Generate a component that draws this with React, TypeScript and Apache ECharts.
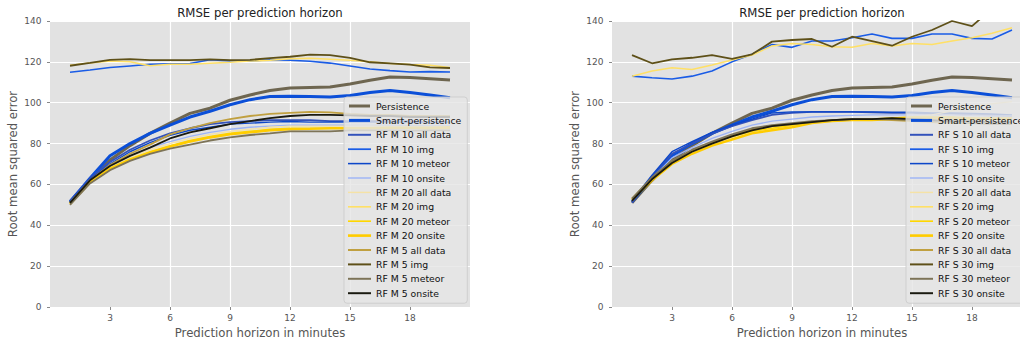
import React, { useEffect, useRef } from "react";
import * as echarts from "echarts";

const minutes = [1, 2, 3, 4, 5, 6, 7, 8, 9, 10, 11, 12, 13, 14, 15, 16, 17, 18, 19, 20];
const xTicks = [3, 6, 9, 12, 15, 18];

const persistence = [51, 62, 72, 79, 85, 90, 94.8, 97.3, 101.2, 103.8, 106, 107.2, 107.5, 107.7, 109.2, 111, 112.6, 112.3, 111.7, 111.1];
const smartPersistence = [51.5, 63, 74, 80, 85, 89, 93, 95.8, 99, 101.5, 103, 103.2, 103, 102.8, 103.5, 105, 106, 105, 103.8, 102.4];

// Left chart (RF M)
const m10All = [52, 63, 71, 77, 81.5, 85, 87.5, 89.5, 90.5, 91, 91.5, 91.5, 91.5, 91, 91, 91, 91, 91, 90.5, 90.5];
const m10Img = [114.9, 116, 117.2, 118, 118.8, 119, 119.2, 121, 120.5, 120.5, 121, 120.8, 120.3, 119.4, 118, 116.5, 115.7, 115, 115.2, 115];
const m10Meteor = [51.5, 62.5, 70, 76, 80.5, 84, 86.5, 88, 89.5, 90, 90.5, 90.8, 90.5, 90.5, 90.5, 90.5, 90.5, 90.3, 90.3, 90.5];
const m10Onsite = [51, 62, 69, 74, 78, 81, 83.5, 85.5, 87, 88, 88.5, 89, 89, 89, 89, 89, 89, 88.8, 88.8, 88.8];
const m20All = [51, 61.5, 68.5, 73, 77, 80, 82.5, 84.5, 86, 87, 88, 88.5, 88.5, 88.5, 88.5, 88.5, 88.3, 88.3, 88, 88];
const m20Img = [118.4, 119.5, 120.4, 120, 118.1, 118.8, 118.8, 119.3, 119.8, 120.4, 120.8, 121.5, 121.8, 121.3, 120.8, 120, 119.2, 118.7, 118.3, 117.3];
const m20Meteor = [50.5, 61, 68, 72.5, 76, 79, 81.5, 83.5, 85, 86, 87, 87.5, 87.5, 87.5, 87.5, 87.5, 87.5, 87.5, 87.3, 87.5];
const m20Onsite = [50.5, 61, 67.5, 72, 75.5, 78.5, 81, 83, 84.5, 85.5, 86.5, 87, 87.2, 87.5, 87.5, 87.5, 87.8, 87.8, 87.8, 88];
const m5All = [51, 62, 69.5, 75, 79.5, 84.5, 87.5, 90, 92, 93.5, 94.5, 95, 95.5, 95.3, 94.5, 94, 94, 93.5, 93.5, 93.5];
const m5Img = [118.1, 119.5, 121, 121.3, 120.8, 120.8, 120.8, 121.2, 120.8, 121, 121.8, 122.5, 123.5, 123.3, 122, 119.8, 119.3, 118.6, 117.3, 117];
const m5Meteor = [50, 60.5, 67, 71.5, 75, 77.5, 79.5, 81.5, 83, 84.2, 85, 86, 86, 86, 86.5, 86.5, 86.5, 86.3, 86.5, 86.5];
const m5Onsite = [51, 62, 69, 74, 78, 82.5, 85.5, 87.5, 89.5, 91, 92.5, 93.5, 94, 94, 93.8, 93.5, 93.5, 93, 93, 93];

// Right chart (RF S)
const s10All = [51, 64, 75, 80, 85, 88.5, 91.5, 94, 95, 95.5, 95.5, 95.5, 95.3, 95, 95, 94.5, 94.5, 94, 93.8, 93.5];
const s10Img = [113, 112.2, 111.6, 113, 115.5, 120, 123.7, 128.5, 127.1, 130.2, 130.2, 131.8, 133.6, 131.5, 131.5, 133.6, 133.6, 131.5, 131.2, 135.6];
const s10Meteor = [52, 64.5, 76, 81, 85.5, 89, 92, 95, 95.5, 95.5, 95.5, 95.5, 95.5, 95.3, 95.3, 95, 95, 94.8, 94.5, 94];
const s10Onsite = [52, 63, 73, 78, 82.5, 86, 89, 91, 92, 93, 93.5, 93.8, 94, 94, 94, 94, 94, 93.8, 93.5, 93.5];
const s20All = [52, 62.5, 71, 76, 80, 83, 86, 88, 89, 90.5, 91, 91.5, 92, 92.5, 93, 94, 96, 98, 99.5, 100.5];
const s20Img = [113, 115.5, 117.1, 116.3, 118.5, 120.9, 123.3, 127.8, 129, 128.5, 127.4, 127.1, 129, 127.8, 129, 128.5, 130.2, 131.8, 134, 136.7];
const s20Meteor = [53, 63, 71.5, 76.5, 80.5, 83.5, 86, 87.5, 89, 90.5, 91, 91.5, 92, 92.5, 93, 93, 93, 92.5, 92.5, 92.5];
const s20Onsite = [52.5, 62, 70, 75, 79, 82, 85, 86.5, 88, 90, 91, 91.5, 91.5, 92, 92.5, 92.5, 92.5, 92, 92, 92];
const s30All = [53, 63, 71, 76.5, 80.5, 84, 87, 88.5, 89.5, 90.5, 91.5, 92, 92, 91.5, 91, 90.5, 90, 90, 90, 90];
const s30Img = [123.3, 119.3, 121.2, 122, 123.3, 121.5, 123.7, 129.9, 130.7, 131.2, 127.4, 132.3, 130.2, 127.9, 132.3, 135.6, 140, 137.5, 146, 150];
const s30Meteor = [53, 63.5, 71.5, 77, 81, 84.5, 87.5, 89, 90, 91, 91.5, 92, 92, 92, 91.5, 91, 90.5, 90, 89.5, 89.5];
const s30Onsite = [52, 62.5, 70.5, 76, 80, 83.5, 86.5, 88.5, 89.5, 90.5, 91.5, 92, 92, 92.5, 92, 91.5, 91, 91, 90.5, 90.5];

const leftNames = [
  "Persistence", "Smart-persistence",
  "RF M 10 all data", "RF M 10 img", "RF M 10 meteor", "RF M 10 onsite",
  "RF M 20 all data", "RF M 20 img", "RF M 20 meteor", "RF M 20 onsite",
  "RF M 5 all data", "RF M 5 img", "RF M 5 meteor", "RF M 5 onsite",
];
const rightNames = [
  "Persistence", "Smart-persistence",
  "RF S 10 all data", "RF S 10 img", "RF S 10 meteor", "RF S 10 onsite",
  "RF S 20 all data", "RF S 20 img", "RF S 20 meteor", "RF S 20 onsite",
  "RF S 30 all data", "RF S 30 img", "RF S 30 meteor", "RF S 30 onsite",
];
const leftValues = [persistence, smartPersistence, m10All, m10Img, m10Meteor, m10Onsite, m20All, m20Img, m20Meteor, m20Onsite, m5All, m5Img, m5Meteor, m5Onsite];
const rightValues = [persistence, smartPersistence, s10All, s10Img, s10Meteor, s10Onsite, s20All, s20Img, s20Meteor, s20Onsite, s30All, s30Img, s30Meteor, s30Onsite];

const colors = [
  "#6e6650", "#0b4fd8",
  "#3352bb", "#1a5ce6", "#0d47c9", "#9db4f5",
  "#f5e2a6", "#ffe066", "#ffd700", "#ffcc00",
  "#c0a040", "#5e5018", "#7d7458", "#1a1a10",
];
const widths = [3, 3, 1.8, 1.6, 1.4, 1.3, 1.3, 1.5, 1.5, 2.4, 1.8, 1.8, 1.8, 1.8];

const FONT = "DejaVu Sans";

function makeSeries(names: string[], values: number[][], gi: number) {
  return names.map((name, k) => ({
    type: "line",
    name,
    xAxisIndex: gi,
    yAxisIndex: gi,
    data: minutes.map((m, i) => [m, values[k][i]]),
    symbol: "none",
    showSymbol: false,
    clip: true,
    silent: true,
    z: 2,
    lineStyle: { color: colors[k], width: widths[k] },
    itemStyle: { color: colors[k] },
  }));
}

function makeLegend(names: string[], left: number) {
  return {
    orient: "vertical",
    align: "left",
    left,
    top: 97,
    padding: [3, 6, 4, 4],
    itemWidth: 23,
    itemHeight: 3,
    itemGap: 2.4,
    symbolKeepAspect: true,
    backgroundColor: "rgba(229,229,229,0.82)",
    borderColor: "rgba(204,204,204,0.9)",
    borderWidth: 1,
    borderRadius: 3,
    selectedMode: false,
    textStyle: { fontFamily: FONT, fontSize: 9.3, color: "#111", lineHeight: 12 },
    data: names.map((name, k) => ({
      name,
      icon: `path://M0,0H21V${widths[k]}H0Z`,
    })),
  };
}

function xAxis(gi: number) {
  return {
    type: "value",
    gridIndex: gi,
    min: 0,
    max: 21,
    interval: 3,
    name: "Prediction horizon in minutes",
    nameLocation: "middle",
    nameGap: 20,
    nameTextStyle: { fontFamily: FONT, fontSize: 11.7, color: "#555" },
    axisLine: { show: false },
    axisTick: { show: true, length: 3, lineStyle: { color: "#888" }, customValues: xTicks },
    axisLabel: {
      fontFamily: FONT, fontSize: 9, color: "#555", margin: 6,
      customValues: xTicks,
    },
    splitLine: { show: true, showMinLine: false, showMaxLine: false, lineStyle: { color: "#ffffff", width: 1.2 } },
  };
}

function yAxis(gi: number) {
  return {
    type: "value",
    gridIndex: gi,
    min: 0,
    max: 140,
    interval: 20,
    name: "Root mean squared error",
    nameLocation: "middle",
    nameGap: 31,
    nameTextStyle: { fontFamily: FONT, fontSize: 11.7, color: "#555" },
    axisLine: { show: false },
    axisTick: { show: true, length: 3, lineStyle: { color: "#888" } },
    axisLabel: { fontFamily: FONT, fontSize: 9, color: "#555", margin: 8.5 },
    splitLine: { show: true, lineStyle: { color: "#ffffff", width: 1.2 } },
  };
}

export default function App() {
  const ref = useRef<HTMLDivElement>(null);
  useEffect(() => {
    if (!ref.current) return;
    const chart = echarts.init(ref.current, undefined, { renderer: "svg" });
    const grid = {
      show: true,
      backgroundColor: "#e2e2e2",
      borderWidth: 0,
      top: 21,
      height: 286,
      width: 420,
    };
    chart.setOption({
      animation: false,
      grid: [
        { ...grid, left: 50 },
        { ...grid, left: 612 },
      ],
      xAxis: [xAxis(0), xAxis(1)],
      yAxis: [yAxis(0), yAxis(1)],
      legend: [makeLegend(leftNames, 344), makeLegend(rightNames, 906)],
      graphic: [
        {
          type: "text", x: 260, y: 13,
          style: { text: "RMSE per prediction horizon", align: "center", verticalAlign: "middle", font: `11.7px "${FONT}"`, fill: "#222" },
        },
        {
          type: "text", x: 822, y: 13,
          style: { text: "RMSE per prediction horizon", align: "center", verticalAlign: "middle", font: `11.7px "${FONT}"`, fill: "#222" },
        },
      ],
      series: [...makeSeries(leftNames, leftValues, 0), ...makeSeries(rightNames, rightValues, 1)],
    });
    return () => chart.dispose();
  }, []);
  return (
    <div style={{ position: "fixed", left: 0, top: 0, width: 1020, height: 344, overflow: "hidden", background: "#fff" }}>
      <div ref={ref} style={{ width: 1040, height: 344 }} />
    </div>
  );
}
